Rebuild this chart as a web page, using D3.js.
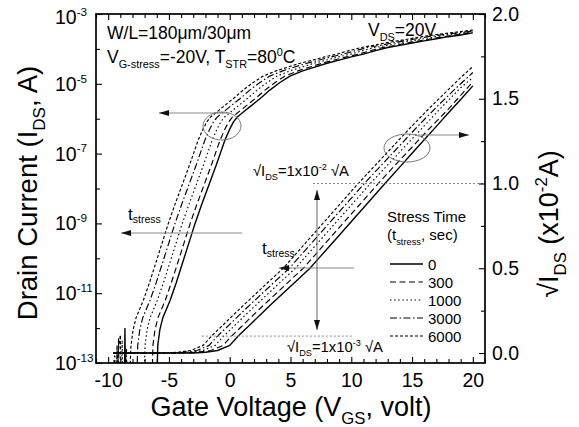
<!DOCTYPE html>
<html><head><meta charset="utf-8">
<script src="https://cdn.jsdelivr.net/npm/d3@7"></script>
<style>
body{margin:0;background:#fff}
svg{display:block}
text{font-family:"Liberation Sans",Arial,Helvetica,sans-serif}
</style>
</head><body>
<svg id="c" width="579" height="427"></svg>
<script>
// ---------------- DATA ----------------
const stressTimes = ["0", "300", "1000", "3000", "6000"];
const xTickLabels = [-10, -5, 0, 5, 10, 15, 20];
const leftTickExps = [-3, -5, -7, -9, -11, -13];
const rightTickLabels = ["0.0", "0.5", "1.0", "1.5", "2.0"];

// log10(I_DS) vs V_GS  (left axis)
const logIds_0 = [[-9.6,-13.4],[-9.0,-13.3],[-8.65,-13.4],[-8.62,-12.0],[-8.58,-13.4],[-7.8,-13.3],[-7.0,-13.4],[-6.3,-13.3],[-5.98,-13.4],
 [-5.92,-12.5],[-5.75,-12.05],[-5.5,-11.7],[-4.9,-11.2],[-4.4,-10.7],[-3.85,-10.1],[-3.35,-9.55],[-2.85,-9.0],[-2.35,-8.5],[-1.85,-8.03],
 [-1.1,-7.32],[-0.4,-6.62],[0.0,-6.3],[0.3,-6.1],[0.6,-5.96],[0.95,-5.86],[1.3,-5.76],[1.65,-5.66],[2.15,-5.52],[2.65,-5.38],[3.3,-5.18],
 [4.1,-4.97],[4.95,-4.78],[6,-4.63],[7,-4.52],[8,-4.41],[9,-4.32],[10,-4.23],[11,-4.15],[12,-4.05],[13,-3.96],[14,-3.9],[15,-3.83],
 [16,-3.77],[17,-3.71],[18,-3.65],[19,-3.6],[20,-3.54]];
const logIds_300 = [[-9.6,-13.4],[-9.3,-13.3],[-9.27,-12.5],[-9.24,-13.4],[-8.2,-13.3],[-7.6,-13.4],[-7.0,-13.3],[-6.38,-13.4],
 [-6.32,-12.5],[-6.15,-12.05],[-5.9,-11.7],[-5.3,-11.2],[-4.8,-10.7],[-4.25,-10.1],[-3.75,-9.55],[-3.25,-9.0],[-2.75,-8.5],[-2.25,-8.03],
 [-1.5,-7.32],[-0.8,-6.62],[-0.4,-6.3],[-0.1,-6.1],[0.2,-5.96],[0.55,-5.86],[0.9,-5.76],[1.25,-5.66],[1.75,-5.52],[2.25,-5.38],[2.9,-5.18],
 [3.7,-4.97],[4.55,-4.78],[5.6,-4.63],[6.6,-4.52],[7.6,-4.41],[8.6,-4.32],[9.6,-4.23],[10.6,-4.15],[11.6,-4.05],[12.6,-3.96],[13.6,-3.9],
 [14.6,-3.83],[15.6,-3.77],[16.6,-3.71],[17.6,-3.65],[18.6,-3.6],[20,-3.53]];
const logIds_1000 = [[-9.6,-13.3],[-9.45,-12.7],[-9.4,-13.4],[-8.9,-13.3],[-8.85,-12.35],[-8.8,-13.4],[-7.8,-13.3],[-7.1,-13.4],[-7.03,-13.3],
 [-6.97,-12.5],[-6.8,-12.05],[-6.55,-11.7],[-5.95,-11.2],[-5.45,-10.7],[-4.9,-10.1],[-4.4,-9.55],[-3.9,-9.0],[-3.4,-8.5],[-2.9,-8.03],
 [-2.15,-7.32],[-1.45,-6.62],[-1.05,-6.3],[-0.75,-6.1],[-0.45,-5.96],[-0.1,-5.86],[0.25,-5.76],[0.6,-5.66],[1.1,-5.52],[1.6,-5.38],[2.25,-5.18],
 [3.05,-4.97],[3.9,-4.78],[4.95,-4.63],[5.95,-4.52],[6.95,-4.41],[7.95,-4.32],[8.95,-4.23],[9.95,-4.15],[10.95,-4.05],[11.95,-3.96],
 [12.95,-3.9],[13.95,-3.83],[14.95,-3.77],[15.95,-3.71],[16.95,-3.65],[17.95,-3.6],[20,-3.51]];
const logIds_3000 = [[-9.6,-13.4],[-9.2,-13.3],[-9.15,-12.3],[-9.1,-13.4],[-8.6,-13.3],[-8.5,-12.6],[-8.45,-13.4],[-7.7,-13.4],[-7.63,-13.3],
 [-7.57,-12.5],[-7.4,-12.05],[-7.15,-11.7],[-6.55,-11.2],[-6.05,-10.7],[-5.5,-10.1],[-5.0,-9.55],[-4.5,-9.0],[-4.0,-8.5],[-3.5,-8.03],
 [-2.75,-7.32],[-2.05,-6.62],[-1.65,-6.3],[-1.35,-6.1],[-1.05,-5.96],[-0.7,-5.86],[-0.35,-5.76],[0.0,-5.66],[0.5,-5.52],[1.0,-5.38],[1.65,-5.18],
 [2.45,-4.97],[3.3,-4.78],[4.35,-4.63],[5.35,-4.52],[6.35,-4.41],[7.35,-4.32],[8.35,-4.23],[9.35,-4.15],[10.35,-4.05],[11.35,-3.96],
 [12.35,-3.9],[13.35,-3.83],[14.35,-3.77],[15.35,-3.71],[16.35,-3.65],[17.35,-3.6],[20,-3.49]];
const logIds_6000 = [[-9.6,-13.3],[-9.5,-12.9],[-9.45,-13.4],[-9.0,-12.2],[-8.95,-13.4],[-8.6,-13.3],[-8.24,-13.4],
 [-8.12,-12.5],[-7.95,-12.05],[-7.7,-11.7],[-7.1,-11.2],[-6.6,-10.7],[-6.05,-10.1],[-5.55,-9.55],[-5.05,-9.0],[-4.55,-8.5],[-4.05,-8.03],
 [-3.3,-7.32],[-2.6,-6.62],[-2.2,-6.3],[-1.9,-6.1],[-1.6,-5.96],[-1.25,-5.86],[-0.9,-5.76],[-0.55,-5.66],[-0.05,-5.52],[0.45,-5.38],[1.1,-5.18],
 [1.9,-4.97],[2.75,-4.78],[3.8,-4.63],[4.8,-4.52],[5.8,-4.41],[6.8,-4.32],[7.8,-4.23],[8.8,-4.15],[9.8,-4.05],[10.8,-3.96],[11.8,-3.9],
 [12.8,-3.83],[13.8,-3.77],[14.8,-3.71],[15.8,-3.65],[16.8,-3.6],[20,-3.46]];

// sqrt(I_DS) in units of 1e-2 sqrt(A)  (right axis)
const sqrtIds_0 = [[-9.6,0],[-3,0],[-2,0.005],[-1,0.015],[0,0.045],[0.7,0.1],[1.5,0.155],[2.5,0.225],[3.5,0.293],[4.5,0.36],[5.5,0.427],
 [6.6,0.5],[7.5,0.573],[8.5,0.654],[9.5,0.735],[10.5,0.816],[11.5,0.897],[12.77,1.0],[14,1.098],[15,1.178],[16,1.258],[17,1.337],[18,1.417],[19,1.496],[20,1.576]];
const sqrtIds_300 = [[-9.6,0],[-3.55,0],[-2.55,0.005],[-1.55,0.015],[-0.55,0.045],[0.15,0.1],[0.95,0.155],[1.95,0.225],[2.95,0.293],[3.95,0.36],
 [4.95,0.427],[6.05,0.5],[6.95,0.573],[7.95,0.654],[8.95,0.735],[9.95,0.816],[10.95,0.897],[12.22,1.0],[13.5,1.1],[15,1.215],[16.5,1.33],[18,1.44],[19,1.52],[20,1.60]];
const sqrtIds_1000 = [[-9.6,0],[-4.2,0],[-3.2,0.005],[-2.2,0.015],[-1.2,0.045],[-0.5,0.1],[0.3,0.155],[1.3,0.225],[2.3,0.293],[3.3,0.36],
 [4.3,0.427],[5.4,0.5],[6.3,0.573],[7.3,0.654],[8.3,0.735],[9.3,0.816],[10.3,0.897],[11.57,1.0],[13,1.11],[14.5,1.225],[16,1.34],[17.5,1.455],[19,1.565],[20,1.625]];
const sqrtIds_3000 = [[-9.6,0],[-4.7,0],[-3.7,0.005],[-2.7,0.015],[-1.7,0.045],[-1.0,0.1],[-0.2,0.155],[0.8,0.225],[1.8,0.293],[2.8,0.36],
 [3.8,0.427],[4.9,0.5],[5.8,0.573],[6.8,0.654],[7.8,0.735],[8.8,0.816],[9.8,0.897],[11.07,1.0],[12.5,1.11],[14,1.225],[15.5,1.34],[17,1.45],[18.5,1.555],[20,1.655]];
const sqrtIds_6000 = [[-9.6,0],[-5.2,0],[-4.2,0.005],[-3.2,0.015],[-2.2,0.045],[-1.5,0.1],[-0.7,0.155],[0.3,0.225],[1.3,0.293],[2.3,0.36],
 [3.3,0.427],[4.4,0.5],[5.3,0.573],[6.3,0.654],[7.3,0.735],[8.3,0.816],[9.3,0.897],[10.57,1.0],[12,1.11],[13.5,1.225],[15,1.34],[16.5,1.45],[18,1.555],[19,1.625],[20,1.69]];

const logSeries = [logIds_0, logIds_300, logIds_1000, logIds_3000, logIds_6000];
const sqrtSeries = [sqrtIds_0, sqrtIds_300, sqrtIds_1000, sqrtIds_3000, sqrtIds_6000];

// ---------------- STYLE / LAYOUT ----------------
const dashes = [null, "6,3.5", "1.5,2.6", "7,2.5,1.5,2.5", "3,2"];
const widths = [1.4, 1.15, 1.15, 1.15, 1.15];
const L = 96, R = 485, T = 14, B = 363;
const FONT = '"Liberation Sans",Arial,sans-serif';

const svg = d3.select("#c");
const x = d3.scaleLinear().domain([-11, 21]).range([L, R]);
const yL = d3.scaleLog().domain([1e-13, 1e-3]).range([B, T]);
const yR = d3.scaleLinear().domain([-0.0588, 2.0]).range([B, T]);

function rich(parent, px, py, parts, size, opts = {}) {
  const t = parent.append("text").attr("x", px).attr("y", py)
    .attr("font-size", size).attr("fill", opts.fill || "#000");
  if (opts.anchor) t.attr("text-anchor", opts.anchor);
  if (opts.transform) t.attr("transform", opts.transform);
  let cur = 0;
  parts.forEach(([s, k]) => {
    const target = k === "sub" ? size * (opts.subDy || 0.3) : k === "sup" ? -size * 0.42 : 0;
    const ts = t.append("tspan").text(s).attr("dy", target - cur);
    if (k) ts.attr("font-size", size * (opts.small || 0.62));
    cur = target;
  });
  return t;
}

// defs
const defs = svg.append("defs");
defs.append("clipPath").attr("id", "clip").append("rect")
  .attr("x", L).attr("y", T).attr("width", R - L).attr("height", B - T);
defs.append("marker").attr("id", "ah").attr("viewBox", "0 0 10 6")
  .attr("refX", 10).attr("refY", 3).attr("markerWidth", 10).attr("markerHeight", 6)
  .attr("markerUnits", "userSpaceOnUse").attr("orient", "auto-start-reverse")
  .append("path").attr("d", "M0,0 L10,3 L0,6 Z").attr("fill", "#111");

// curves
const gCurves = svg.append("g").attr("clip-path", "url(#clip)");
const lineLog = d3.line().x(d => x(d[0])).y(d => yL(Math.pow(10, d[1])));
const lineSqrt = d3.line().x(d => x(d[0])).y(d => yR(d[1]));
[4, 3, 2, 1, 0].forEach(i => {
  gCurves.append("path").datum(logSeries[i]).attr("d", lineLog)
    .attr("fill", "none").attr("stroke", "#000").attr("stroke-width", widths[i])
    .attr("stroke-dasharray", dashes[i]);
  gCurves.append("path").datum(sqrtSeries[i]).attr("d", lineSqrt)
    .attr("fill", "none").attr("stroke", "#000").attr("stroke-width", widths[i])
    .attr("stroke-dasharray", dashes[i]);
});

// reference dotted lines
const gAnn = svg.append("g");
gAnn.append("line").attr("x1", x(6.85)).attr("x2", R).attr("y1", yR(1.0)).attr("y2", yR(1.0))
  .attr("stroke", "#888").attr("stroke-width", 1).attr("stroke-dasharray", "2,2");
gAnn.append("line").attr("x1", x(-2.3)).attr("x2", x(10.1)).attr("y1", yR(0.1)).attr("y2", yR(0.1))
  .attr("stroke", "#888").attr("stroke-width", 1).attr("stroke-dasharray", "2,2");

// arrows
function arrow(x1, y1, x2, y2, both, color) {
  const l = gAnn.append("line").attr("x1", x1).attr("y1", y1).attr("x2", x2).attr("y2", y2)
    .attr("stroke", color || "#888").attr("stroke-width", 1).attr("marker-end", "url(#ah)");
  if (both) l.attr("marker-start", "url(#ah)");
}
arrow(227, 113, 159, 113);           // upper-left arrow (log axis)
arrow(418, 135, 469, 135);           // right arrow (sqrt axis)
arrow(242, 233, 121, 233);           // t_stress arrow (log)
arrow(354, 268, 279, 268);           // t_stress arrow (sqrt)
arrow(317, 330, 317, 190, true, "#666"); // double vertical arrow

// ellipses
gAnn.append("ellipse").attr("cx", 222).attr("cy", 126).attr("rx", 19).attr("ry", 14)
  .attr("fill", "none").attr("stroke", "#777").attr("stroke-width", 1);
gAnn.append("ellipse").attr("cx", 407).attr("cy", 148).attr("rx", 23).attr("ry", 14)
  .attr("fill", "none").attr("stroke", "#777").attr("stroke-width", 1);

// ---------------- AXES ----------------
const xMinor = d3.range(-11, 22, 1);
const gx = svg.append("g").attr("transform", `translate(0,${B})`)
  .call(d3.axisBottom(x).tickValues(xTickLabels).tickSizeInner(-6).tickSizeOuter(0).tickPadding(10)
    .tickFormat(d => d3.format("d")(d).replace("\u2212", "-")));
svg.append("g").attr("transform", `translate(0,${B})`)
  .call(d3.axisBottom(x).tickValues(xMinor.filter(v => v % 5 !== 0)).tickSizeInner(-4).tickSizeOuter(0).tickFormat(""));
svg.append("g").attr("transform", `translate(0,${T})`)
  .call(d3.axisTop(x).tickValues(xTickLabels).tickSizeInner(-6).tickSizeOuter(0).tickFormat(""));
svg.append("g").attr("transform", `translate(0,${T})`)
  .call(d3.axisTop(x).tickValues(xMinor.filter(v => v % 5 !== 0)).tickSizeInner(-4).tickSizeOuter(0).tickFormat(""));
gx.selectAll("text").attr("font-size", 19.5).attr("font-family", FONT).attr("fill", "#000");

svg.append("g").attr("transform", `translate(${L},0)`)
  .call(d3.axisLeft(yL).tickValues(leftTickExps.map(e => Math.pow(10, e))).tickSizeInner(-6).tickSizeOuter(0).tickFormat(""));
svg.append("g").attr("transform", `translate(${L},0)`)
  .call(d3.axisLeft(yL).tickValues([-4, -6, -8, -10, -12].map(e => Math.pow(10, e))).tickSizeInner(-4).tickSizeOuter(0).tickFormat(""));
svg.append("g").attr("transform", `translate(${R},0)`)
  .call(d3.axisRight(yR).tickValues(rightTickLabels.map(Number)).tickSizeInner(-6).tickSizeOuter(0).tickFormat(""));
svg.append("g").attr("transform", `translate(${R},0)`)
  .call(d3.axisRight(yR).tickValues([0.25, 0.75, 1.25, 1.75]).tickSizeInner(-4).tickSizeOuter(0).tickFormat(""));
svg.selectAll(".domain").remove();
svg.selectAll(".tick line").attr("stroke", "#000").attr("stroke-width", 1.1);

// frame
svg.append("rect").attr("x", L).attr("y", T).attr("width", R - L).attr("height", B - T)
  .attr("fill", "none").attr("stroke", "#000").attr("stroke-width", 1.7);

// left tick labels
leftTickExps.forEach(e => {
  const yy = Math.max(yL(Math.pow(10, e)) + 7, 24);
  rich(svg, 55, yy, [["10", ""], [String(e), "sup"]], 19.5, { small: 0.6 });
});
// right tick labels
rightTickLabels.forEach(s => {
  svg.append("text").attr("x", 492).attr("y", yR(+s) + 6.5).attr("font-size", 19.5).text(s);
});

// axis titles
rich(svg, 291, 416, [["Gate Voltage (V", ""], ["GS", "sub"], [", volt)", ""]], 27, { anchor: "middle" });
rich(svg, 0, 0, [["Drain Current (I", ""], ["DS", "sub"], [", A)", ""]], 27.5,
  { anchor: "middle", transform: "translate(37,193) rotate(-90)" });
rich(svg, 0, 0, [["\u221AI", ""], ["DS", "sub"], [" (x10", ""], ["-2", "sup"], ["A)", ""]], 27,
  { anchor: "middle", transform: "translate(558,224) rotate(-90)" });

// annotations
rich(svg, 107, 39, [["W/L=180\u03BCm/30\u03BCm", ""]], 17.5);
rich(svg, 107, 63, [["V", ""], ["G-stress", "sub"], ["=-20V, T", ""], ["STR", "sub"], ["=80", ""], ["0", "sup"], ["C", ""]], 17.5);
rich(svg, 368, 36, [["V", ""], ["DS", "sub"], ["=20V", ""]], 17.5);
rich(svg, 128, 220, [["t", ""], ["stress", "sub"]], 17, { small: 0.62, subDy: 0.2 });
rich(svg, 262, 254, [["t", ""], ["stress", "sub"]], 17, { small: 0.62, subDy: 0.2 });
rich(svg, 253, 176, [["\u221AI", ""], ["DS", "sub"], ["=1x10", ""], ["-2", "sup"], [" \u221AA", ""]], 14.8);
rich(svg, 287, 352, [["\u221AI", ""], ["DS", "sub"], ["=1x10", ""], ["-3", "sup"], [" \u221AA", ""]], 14.8);

// legend
svg.append("text").attr("x", 387).attr("y", 222).attr("font-size", 15).text("Stress Time");
rich(svg, 387, 240, [["(t", ""], ["stress", "sub"], [", sec)", ""]], 15);
stressTimes.forEach((s, i) => {
  const yy = 264 + i * 18;
  svg.append("line").attr("x1", 390).attr("x2", 423).attr("y1", yy).attr("y2", yy)
    .attr("stroke", "#000").attr("stroke-width", widths[i]).attr("stroke-dasharray", dashes[i]);
  svg.append("text").attr("x", 428).attr("y", yy + 5.5).attr("font-size", 15).text(s);
});
</script>
</body></html>
